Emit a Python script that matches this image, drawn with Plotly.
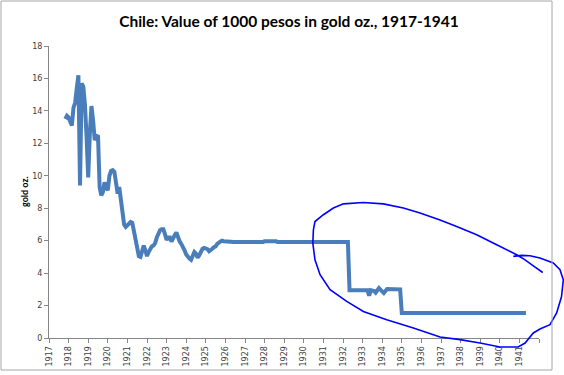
import plotly.graph_objects as go

# ---- data ----
months = ["1917-11","1917-12","1918-01","1918-02","1918-03","1918-04","1918-05","1918-06",
          "1918-07","1918-08","1918-09","1918-10","1918-11","1918-12","1919-01","1919-02",
          "1919-03","1919-04","1919-05","1919-06","1919-07","1919-08","1919-09","1919-10",
          "1919-11","1919-12","1920-01","1920-02","1920-03","1920-04","1920-05","1920-06",
          "1920-07","1920-08","1920-09","1920-10","1920-11","1920-12","1921-01","1921-02",
          "1921-03","1921-04","1921-05","1921-06","1921-07","1921-08","1921-09","1921-10",
          "1921-11","1921-12","1922-01","1922-02","1922-03","1922-04","1922-05","1922-06",
          "1922-07","1922-08","1922-09","1922-10","1922-11","1922-12","1923-01","1923-02",
          "1923-03","1923-04","1923-05","1923-06","1923-07","1923-08","1923-09","1923-10",
          "1923-11","1923-12","1924-01","1924-02","1924-03","1924-04","1924-05","1924-06",
          "1924-07","1924-08","1924-09","1924-10","1924-11","1924-12","1925-01","1925-02",
          "1925-03","1925-04","1925-05","1925-06","1925-07","1925-08","1925-09","1925-10",
          "1925-11","1925-12","1926-06","1926-10","1926-11","1927-12","1928-01","1928-08",
          "1928-09","1932-04","1932-05","1933-04","1933-05","1933-06","1933-08","1933-09",
          "1933-11","1934-02","1934-04","1934-12","1935-01","1941-05"]

gold_oz = [13.5,13.7,13.6,13.4,13.1,14.2,14.5,15.4,
           16.2,9.4,15.7,15.5,14.4,12.4,9.9,12.6,
           14.3,13.4,12.2,12.4,12.5,9.3,8.8,9.0,
           9.6,9.3,9.1,10.0,10.3,10.35,10.25,9.6,
           8.9,9.3,8.5,7.9,7.0,6.85,6.95,7.0,
           7.15,7.1,6.5,5.9,5.4,5.05,5.0,5.3,
           5.7,5.4,5.05,5.3,5.5,5.65,5.7,5.85,
           6.2,6.45,6.65,6.7,6.7,6.4,6.05,6.2,
           6.2,5.95,6.2,6.35,6.5,6.2,5.95,5.8,
           5.65,5.4,5.15,5.0,4.9,4.82,5.0,5.3,
           5.2,4.95,5.1,5.35,5.5,5.55,5.5,5.48,
           5.35,5.4,5.5,5.6,5.65,5.8,5.9,5.95,
           6.0,5.97,5.92,5.96,5.92,5.92,5.96,5.96,
           5.92,5.92,2.95,2.95,2.6,2.95,2.9,2.8,
           3.08,2.77,3.02,3.0,1.54,1.54]

tick_years = list(range(1917, 1943))
tick_labels = [str(y) for y in range(1917, 1942)] + [""]

# hand-drawn circle annotation, in chart units (year, gold oz.)
circle_years = [1942.19,1941.71,1941.29,1940.86,1939.84,1938.82,1937.80,1936.95,1935.93,
                1935.08,1934.06,1933.04,1932.02,1931.51,1931.0,1930.57,1930.49,1930.46,
                1930.57,1930.83,1931.34,1932.19,1933.04,1934.23,1935.59,1936.95,1937.97,
                1938.99,1940.01,1940.94,1941.29,1941.71,1942.05,1942.56,1942.90,1943.15,
                1943.24,1943.07,1942.73,1942.05,1941.54,1941.12,1940.69]
circle_vals = [4.04,4.45,4.82,5.13,5.75,6.36,6.88,7.27,7.70,
               8.01,8.27,8.35,8.27,8.01,7.60,7.18,6.67,5.85,
               4.82,3.90,2.98,2.26,1.64,1.13,0.62,0.06,-0.10,
               -0.31,-0.55,-0.55,-0.31,0.31,0.55,0.82,1.54,2.56,
               3.59,4.21,4.62,4.93,5.07,5.09,5.03]

X0, X1 = 1917, 1942
Y0, Y1 = 0, 18

x_dec = [int(m[:4]) + (int(m[5:]) - 1) / 12 for m in months]

fig = go.Figure()
fig.add_trace(go.Scatter(x=x_dec, y=gold_oz, mode="lines",
                         line=dict(color="#4a7ebb", width=4), showlegend=False,
                         hoverinfo="skip"))

# circle path in paper coords
pts = [((cx - X0) / (X1 - X0), (cy - Y0) / (Y1 - Y0)) for cx, cy in zip(circle_years, circle_vals)]
path = "M " + " L ".join(f"{px:.4f},{py:.4f}" for px, py in pts)
fig.add_shape(type="path", xref="paper", yref="paper", path=path,
              line=dict(color="#0000ff", width=1.6), layer="above")

W, H = 564, 375
L, T = 49, 46
R = W - 539
B = H - 338
pw, ph = W - L - R, H - T - B

# outer chart frame (pixels 1..552, 1..370)
fig.add_shape(type="rect", xref="paper", yref="paper",
              x0=(1 - L) / pw, x1=(552 - L) / pw,
              y0=(H - B - 370) / ph, y1=(H - B - 1) / ph,
              line=dict(color="#a6a6a6", width=1))

fig.add_annotation(text="<b>gold oz.</b>", xref="paper", yref="paper",
                   x=(24 - L) / pw, y=0.5, xanchor="center", yanchor="middle",
                   textangle=-90, showarrow=False,
                   font=dict(family="Lato", size=9, color="#000000"))

fig.update_layout(
    template="none",
    width=W, height=H,
    margin=dict(l=L, r=R, t=T, b=B, autoexpand=False),
    paper_bgcolor="white", plot_bgcolor="white",
    title=dict(text="<b>Chile: Value of 1000 pesos in gold oz., 1917-1941</b>",
               x=(289 - L) / pw, xref="paper", xanchor="center",
               y=1 - 22 / H, yref="container", yanchor="middle",
               font=dict(family="Lato", size=15.5, color="#000000")),
    xaxis=dict(range=[X0, X1], tickmode="array", tickvals=tick_years, ticktext=tick_labels,
               tickangle=-90, ticks="outside", ticklen=4, tickcolor="#868686",
               showline=True, linecolor="#868686", linewidth=1, showgrid=False, zeroline=False,
               automargin=False,
               tickfont=dict(family="DejaVu Sans", size=8, color="#404040")),
    yaxis=dict(range=[Y0, Y1], dtick=2, ticks="outside", ticklen=4, tickcolor="#868686",
               showline=True, linecolor="#868686", linewidth=1, showgrid=False, zeroline=False,
               automargin=False,
               tickfont=dict(family="DejaVu Sans", size=8, color="#404040")),
)

fig.write_html("out.html", config={"displayModeBar": False, "staticPlot": True},
               post_script="document.body.style.margin='0';document.body.style.overflow='hidden';")
